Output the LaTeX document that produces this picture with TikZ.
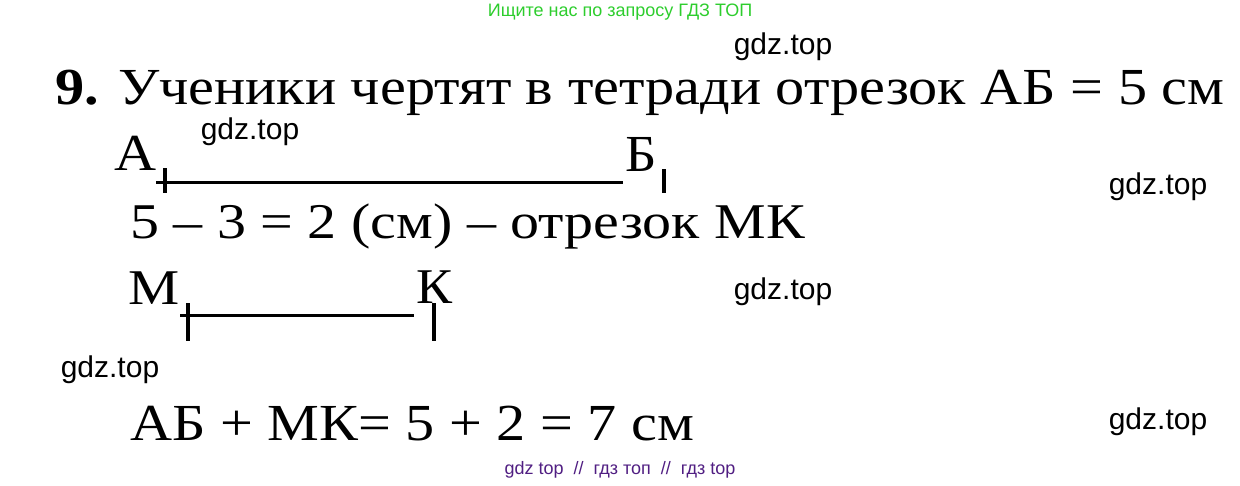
\documentclass[tikz,border=0pt]{standalone}
\usepackage{fontspec}
\setmainfont{Liberation Serif}
\newfontfamily\wmfont{Liberation Sans}
\usetikzlibrary{positioning}
\definecolor{wmgreen}{RGB}{45,205,45}
\definecolor{wmpurple}{RGB}{80,30,130}
\newcommand{\wtext}[2][1.12]{\scalebox{#1}[1]{#2}}

\begin{document}
\begin{tikzpicture}[x=1pt,y=-1pt,
  txt/.style={inner sep=0pt,anchor=base west,font=\fontsize{52}{60}\selectfont},
  wm/.style={inner sep=0pt,font=\wmfont\fontsize{30}{34}\selectfont},
  seg/.style={line width=3pt},
  tick/.style={line width=4pt}]
\useasboundingbox (0,0) rectangle (1240,485);
% watermarks
\node[wm,text=wmgreen,font=\wmfont\fontsize{18}{20}\selectfont] (top) at (620,12) {Ищите нас по запросу ГДЗ ТОП};
\node[wm] (w1) at (783,47) {gdz.top};
\node[wm] (w2) at (250,132) {gdz.top};
\node[wm] (w3) at (1158,187) {gdz.top};
\node[wm] (w4) at (783,292) {gdz.top};
\node[wm] (w5) at (110,370) {gdz.top};
\node[wm] (w6) at (1158,422) {gdz.top};
\node[wm,text=wmpurple,font=\wmfont\fontsize{18}{20}\selectfont] (bot) at (620,470) {gdz top \ // \ гдз топ \ // \ гдз top};
% text
\node[txt] (head) at (55,104) {\wtext{\textbf{9.} Ученики чертят в тетради отрезок АБ = 5 см}};
\node[txt,font=\fontsize{50}{56}\selectfont] (diff) at (130,238) {\wtext[1.16]{5 -- 3 = 2 (см) -- отрезок МК}};
\node[txt] (sum) at (130,440) {\wtext{АБ + МК= 5 + 2 = 7 см}};
% segment AB
\node[txt] (A) at (114,170) {\wtext{А}};
\node[txt] (B) at (625,171) {\wtext[1.05]{Б}};
\coordinate (a1) at (156,182);
\coordinate (b1) at (623,182);
\draw[seg] (a1) -- (b1);
\draw[tick] (165,168) -- (165,193);
\draw[tick] (664,169) -- (664,193);
% segment MK
\node[txt,font=\fontsize{50}{56}\selectfont] (M) at (128,304) {\wtext[1.15]{М}};
\node[txt,font=\fontsize{50}{56}\selectfont] (K) at (416,303) {\wtext[1.08]{К}};
\coordinate (m1) at (180,315);
\coordinate (k1) at (414,315);
\draw[seg] (m1) -- (k1);
\draw[tick] (188,303) -- (188,341);
\draw[tick] (434,303) -- (434,341);
\end{tikzpicture}
\end{document}
